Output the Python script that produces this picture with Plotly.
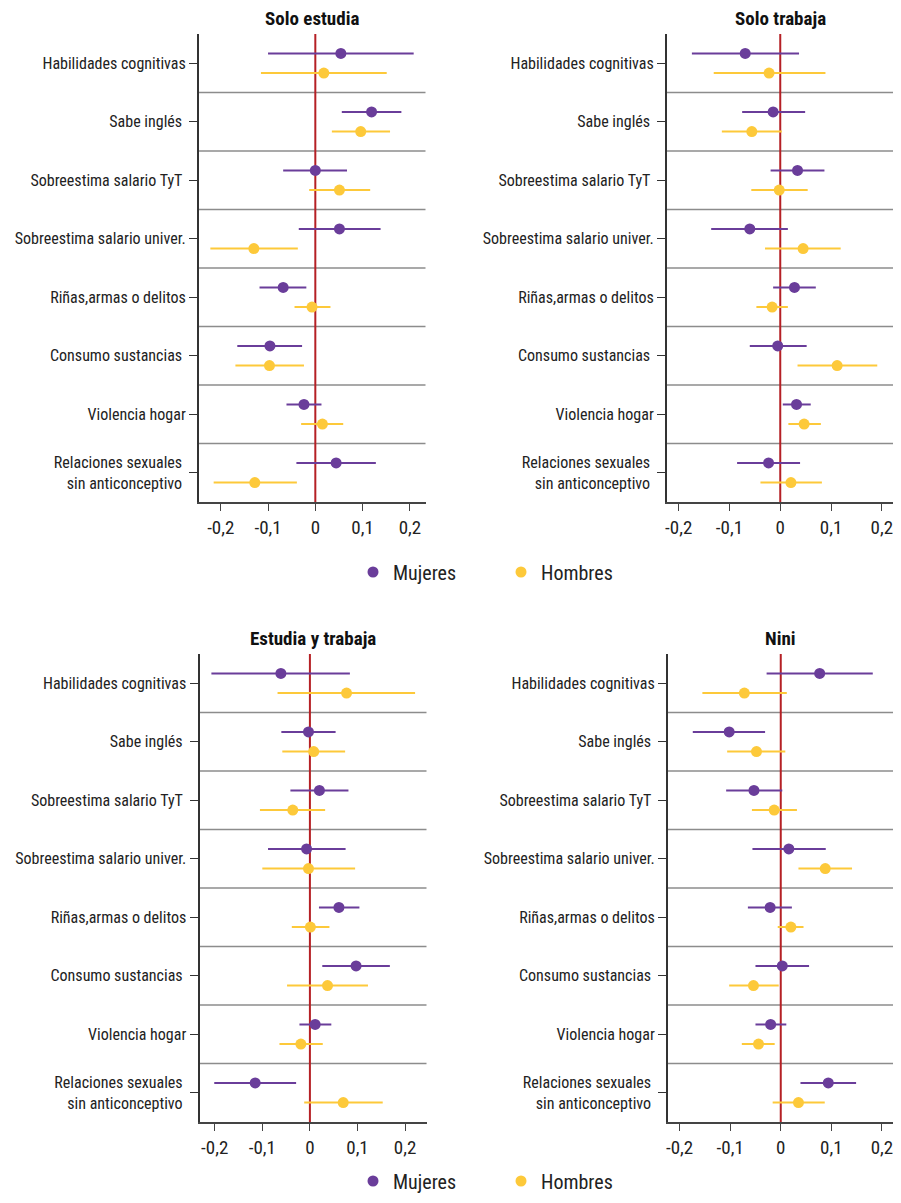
import plotly.graph_objects as go

categories = ["Habilidades cognitivas", "Sabe inglés ", "Sobreestima salario TyT ",
              "Sobreestima salario univer.", "Riñas,armas o delitos",
              "Consumo sustancias ", "Violencia hogar",
              "Relaciones sexuales <br>sin anticonceptivo "]
panel_titles = ["Solo estudia", "Solo trabaja", "Estudia y trabaja", "Nini"]
tick_vals = [-0.2, -0.1, 0, 0.1, 0.2]
tick_text = ["-0,2", "-0,1", "0", "0,1", "0,2"]

# Solo estudia
se_muj = [0.054, 0.119, 0.000, 0.051, -0.068, -0.096, -0.024, 0.044]
se_muj_lo = [-0.100, 0.056, -0.068, -0.035, -0.118, -0.165, -0.061, -0.040]
se_muj_hi = [0.208, 0.182, 0.067, 0.138, -0.019, -0.028, 0.013, 0.128]
se_hom = [0.018, 0.096, 0.051, -0.130, -0.007, -0.097, 0.015, -0.128]
se_hom_lo = [-0.115, 0.035, -0.013, -0.222, -0.044, -0.169, -0.030, -0.215]
se_hom_hi = [0.151, 0.158, 0.116, -0.037, 0.032, -0.024, 0.059, -0.039]

# Solo trabaja
st_muj = [-0.069, -0.014, 0.034, -0.060, 0.028, -0.005, 0.032, -0.023]
st_muj_lo = [-0.174, -0.075, -0.019, -0.136, -0.014, -0.060, 0.005, -0.085]
st_muj_hi = [0.037, 0.049, 0.087, 0.015, 0.070, 0.052, 0.060, 0.039]
st_hom = [-0.022, -0.056, -0.002, 0.045, -0.016, 0.112, 0.047, 0.021]
st_hom_lo = [-0.131, -0.115, -0.057, -0.030, -0.047, 0.034, 0.016, -0.039]
st_hom_hi = [0.089, 0.003, 0.054, 0.119, 0.015, 0.191, 0.080, 0.082]

# Estudia y trabaja
et_muj = [-0.061, -0.003, 0.020, -0.007, 0.061, 0.097, 0.011, -0.115]
et_muj_lo = [-0.207, -0.060, -0.041, -0.088, 0.019, 0.026, -0.022, -0.201]
et_muj_hi = [0.084, 0.054, 0.081, 0.075, 0.104, 0.168, 0.045, -0.029]
et_hom = [0.077, 0.008, -0.036, -0.003, 0.001, 0.037, -0.019, 0.070]
et_hom_lo = [-0.068, -0.058, -0.105, -0.100, -0.038, -0.048, -0.064, -0.012]
et_hom_hi = [0.221, 0.074, 0.032, 0.095, 0.041, 0.122, 0.027, 0.153]

# Nini
nn_muj = [0.077, -0.102, -0.053, 0.016, -0.021, 0.003, -0.020, 0.094]
nn_muj_lo = [-0.028, -0.174, -0.108, -0.056, -0.065, -0.050, -0.050, 0.039]
nn_muj_hi = [0.182, -0.031, 0.003, 0.089, 0.022, 0.056, 0.011, 0.149]
nn_hom = [-0.072, -0.048, -0.013, 0.088, 0.020, -0.054, -0.044, 0.035]
nn_hom_lo = [-0.155, -0.106, -0.057, 0.035, -0.006, -0.102, -0.077, -0.016]
nn_hom_hi = [0.012, 0.009, 0.032, 0.141, 0.045, -0.004, -0.012, 0.087]

x_ranges = [[-0.246, 0.233], [-0.223, 0.222], [-0.232, 0.245], [-0.223, 0.222]]

panels = [
    (se_muj, se_muj_lo, se_muj_hi, se_hom, se_hom_lo, se_hom_hi),
    (st_muj, st_muj_lo, st_muj_hi, st_hom, st_hom_lo, st_hom_hi),
    (et_muj, et_muj_lo, et_muj_hi, et_hom, et_hom_lo, et_hom_hi),
    (nn_muj, nn_muj_lo, nn_muj_hi, nn_hom, nn_hom_lo, nn_hom_hi),
]

# page is offset by the default 8px body margin
OFF = 8
W, H = 885, 1187
PURPLE = "#6a3d9a"
YELLOW = "#fdc93a"
RED = "#b52025"
FONT = "Roboto Condensed"


def px_x(p):
    return min(1.0, max(0.0, (p - OFF) / W))


def px_y(p):
    return min(1.0, max(0.0, 1 - (p - OFF) / H))


x_domains = [[px_x(199), px_x(425.5)], [px_x(667), px_x(893)],
             [px_x(199.5), px_x(426.5)], [px_x(668), px_x(893)]]
y_domains = [[px_y(502), px_y(34)], [px_y(502), px_y(34)],
             [px_y(1122), px_y(654)], [px_y(1122), px_y(654)]]

n = len(categories)
centers = [n - 0.5 - i for i in range(n)]
off = 0.167

fig = go.Figure()
for p, (m, mlo, mhi, h, hlo, hhi) in enumerate(panels):
    xa = "x" if p == 0 else f"x{p+1}"
    ya = "y" if p == 0 else f"y{p+1}"
    leg = "legend" if p < 2 else "legend2"
    show = p in (0, 2)
    fig.add_trace(go.Scatter(
        x=m, y=[c + off for c in centers], mode="markers", name="Mujeres",
        marker=dict(color=PURPLE, size=11),
        error_x=dict(type="data", symmetric=False,
                     array=[b - a for a, b in zip(m, mhi)],
                     arrayminus=[a - b for a, b in zip(m, mlo)],
                     color=PURPLE, thickness=2, width=0),
        xaxis=xa, yaxis=ya, showlegend=show, legend=leg))
    fig.add_trace(go.Scatter(
        x=h, y=[c - off for c in centers], mode="markers", name="Hombres",
        marker=dict(color=YELLOW, size=11),
        error_x=dict(type="data", symmetric=False,
                     array=[b - a for a, b in zip(h, hhi)],
                     arrayminus=[a - b for a, b in zip(h, hlo)],
                     color=YELLOW, thickness=2, width=0),
        xaxis=xa, yaxis=ya, showlegend=show, legend=leg))

legend_common = dict(orientation="h", x=px_x(501), xanchor="center", yanchor="middle",
                     font=dict(size=20, family=FONT, color="#222"), itemwidth=30,
                     entrywidth=103, entrywidthmode="pixels", bgcolor="rgba(0,0,0,0)")
layout = dict(
    width=W, height=H, margin=dict(l=0, r=0, t=0, b=0, autoexpand=False),
    plot_bgcolor="white", paper_bgcolor="white",
    font=dict(family=FONT, size=16, color="#222"),
    legend=dict(legend_common, y=px_y(572)),
    legend2=dict(legend_common, y=px_y(1181)),
)
shapes = []
annotations = []
for p in range(4):
    sx = "" if p == 0 else str(p + 1)
    layout[f"xaxis{sx}"] = dict(
        domain=x_domains[p], anchor=f"y{sx}", range=x_ranges[p],
        tickvals=tick_vals, ticktext=tick_text, showgrid=False, zeroline=False,
        showline=True, linecolor="#444", linewidth=2, ticks="outside", ticklen=7,
        tickcolor="#444", tickfont=dict(size=19, family=FONT, color="#222"),
        automargin=False, ticklabeloverflow="allow")
    layout[f"yaxis{sx}"] = dict(
        domain=y_domains[p], anchor=f"x{sx}", range=[0, n],
        tickvals=centers, ticktext=categories, showgrid=False, zeroline=False,
        showline=True, linecolor="#333", linewidth=2, ticks="outside", ticklen=8,
        tickcolor="#333", tickfont=dict(size=16, family=FONT, color="#222"),
        automargin=False, ticklabeloverflow="allow")
    for k in range(1, n):
        shapes.append(dict(type="line", xref=f"x{sx} domain", yref=f"y{sx}",
                           x0=0, x1=1, y0=k, y1=k, line=dict(color="#8c8c8c", width=1.5), layer="below"))
    shapes.append(dict(type="line", xref=f"x{sx}", yref=f"y{sx} domain",
                       x0=0, x1=0, y0=0, y1=1, line=dict(color=RED, width=2), layer="below"))
    annotations.append(dict(text=f"<b>{panel_titles[p]}</b>", xref=f"x{sx} domain", yref=f"y{sx} domain",
                            x=0.5, y=1, yshift=16, xanchor="center", yanchor="middle", showarrow=False,
                            font=dict(size=19, family=FONT, color="#111")))
layout["shapes"] = shapes
layout["annotations"] = annotations
fig.update_layout(**layout)
fig.write_html("out.html")
